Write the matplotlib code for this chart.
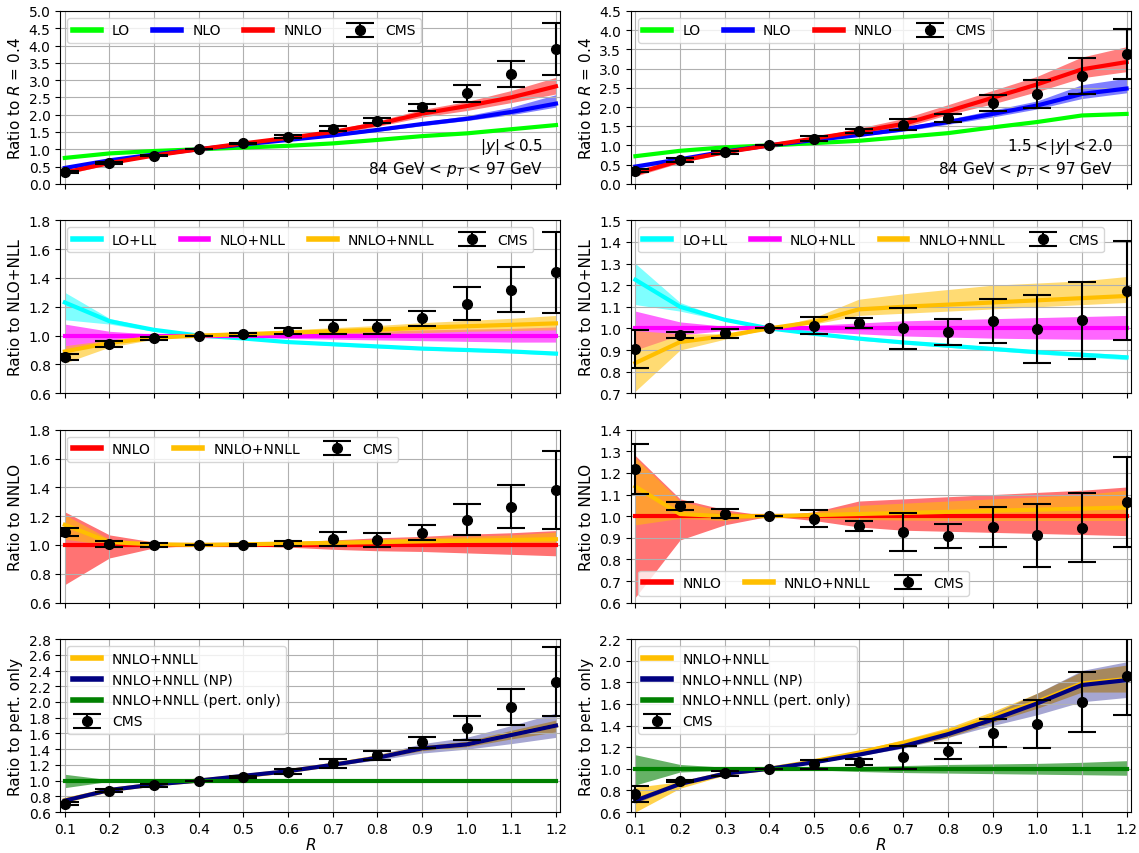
import numpy as np
import matplotlib.pyplot as plt

R = [0.1, 0.2, 0.3, 0.4, 0.5, 0.6, 0.7, 0.8, 0.9, 1.0, 1.1, 1.2]
ones = [1.0] * 12

# ---- row 1: ratio to R = 0.4 ----
# |y| < 0.5
a_lo = [0.75, 0.88, 0.95, 1.0, 1.05, 1.10, 1.17, 1.27, 1.38, 1.46, 1.58, 1.70]
a_nlo = [0.46, 0.68, 0.85, 1.0, 1.14, 1.27, 1.40, 1.56, 1.73, 1.88, 2.08, 2.32]
a_nlo_hi = [0.50, 0.70, 0.86, 1.0, 1.15, 1.29, 1.43, 1.60, 1.79, 1.97, 2.22, 2.58]
a_nlo_lo = [0.42, 0.66, 0.84, 1.0, 1.13, 1.25, 1.37, 1.52, 1.68, 1.83, 2.00, 2.22]
a_nnlo = [0.33, 0.60, 0.82, 1.0, 1.17, 1.33, 1.50, 1.73, 2.03, 2.25, 2.50, 2.82]
a_nnlo_hi = [0.37, 0.63, 0.83, 1.0, 1.19, 1.37, 1.56, 1.82, 2.15, 2.38, 2.70, 3.08]
a_nnlo_lo = [0.27, 0.57, 0.80, 1.0, 1.15, 1.30, 1.45, 1.66, 1.93, 2.12, 2.35, 2.60]
a_cms = [0.33, 0.61, 0.82, 1.0, 1.17, 1.36, 1.60, 1.83, 2.21, 2.62, 3.18, 3.89]
a_err = [0.03, 0.03, 0.02, 0.0, 0.02, 0.04, 0.06, 0.08, 0.11, 0.25, 0.37, 0.75]
# 1.5 < |y| < 2.0
b_lo = [0.72, 0.86, 0.95, 1.0, 1.06, 1.12, 1.22, 1.32, 1.47, 1.61, 1.78, 1.82]
b_nlo = [0.45, 0.64, 0.84, 1.0, 1.14, 1.27, 1.42, 1.61, 1.82, 2.04, 2.34, 2.48]
b_nlo_hi = [0.50, 0.67, 0.86, 1.0, 1.16, 1.31, 1.48, 1.68, 1.92, 2.16, 2.58, 2.75]
b_nlo_lo = [0.40, 0.61, 0.82, 1.0, 1.12, 1.24, 1.37, 1.55, 1.74, 1.95, 2.22, 2.37]
b_nnlo = [0.27, 0.60, 0.82, 1.0, 1.18, 1.36, 1.56, 1.89, 2.24, 2.59, 2.98, 3.17]
b_nnlo_hi = [0.36, 0.66, 0.86, 1.0, 1.22, 1.45, 1.70, 2.06, 2.43, 2.80, 3.30, 3.57]
b_nnlo_lo = [0.20, 0.55, 0.79, 1.0, 1.15, 1.30, 1.47, 1.80, 2.08, 2.40, 2.76, 2.92]
b_cms = [0.34, 0.62, 0.82, 1.0, 1.18, 1.37, 1.54, 1.72, 2.10, 2.34, 2.81, 3.37]
b_err = [0.04, 0.04, 0.04, 0.0, 0.07, 0.05, 0.15, 0.11, 0.20, 0.37, 0.47, 0.65]

# ---- row 2: ratio to NLO+NLL ----
c_ll = [1.23, 1.10, 1.04, 1.0, 0.98, 0.955, 0.94, 0.925, 0.91, 0.90, 0.89, 0.875]
c_ll_hi = [1.30, 1.12, 1.05, 1.0, 0.99, 0.965, 0.95, 0.935, 0.92, 0.91, 0.90, 0.89]
c_ll_lo = [1.11, 1.08, 1.03, 1.0, 0.975, 0.95, 0.93, 0.915, 0.90, 0.89, 0.88, 0.865]
c_nll_hi = [1.08, 1.03, 1.01, 1.0, 1.01, 1.02, 1.025, 1.03, 1.04, 1.045, 1.05, 1.06]
c_nll_lo = [0.90, 0.97, 0.99, 1.0, 0.99, 0.98, 0.975, 0.97, 0.965, 0.96, 0.955, 0.955]
c_nnll = [0.89, 0.95, 0.985, 1.0, 1.01, 1.02, 1.03, 1.04, 1.055, 1.065, 1.075, 1.085]
c_nnll_hi = [0.93, 0.97, 0.995, 1.0, 1.02, 1.04, 1.055, 1.07, 1.09, 1.105, 1.12, 1.14]
c_nnll_lo = [0.81, 0.92, 0.975, 1.0, 1.0, 1.005, 1.01, 1.015, 1.02, 1.03, 1.035, 1.04]
c_cms = [0.85, 0.94, 0.98, 1.0, 1.01, 1.03, 1.06, 1.06, 1.12, 1.22, 1.32, 1.44]
c_err = [0.02, 0.02, 0.013, 0.0, 0.01, 0.022, 0.046, 0.05, 0.05, 0.115, 0.155, 0.28]

d_ll = [1.225, 1.10, 1.04, 1.0, 0.975, 0.953, 0.935, 0.92, 0.905, 0.89, 0.878, 0.866]
d_ll_hi = [1.30, 1.12, 1.045, 1.0, 0.985, 0.962, 0.945, 0.93, 0.915, 0.90, 0.89, 0.878]
d_ll_lo = [1.11, 1.08, 1.035, 1.0, 0.97, 0.945, 0.928, 0.913, 0.897, 0.882, 0.868, 0.855]
d_nll_hi = [1.08, 1.03, 1.01, 1.0, 1.015, 1.025, 1.035, 1.04, 1.045, 1.05, 1.055, 1.06]
d_nll_lo = [0.90, 0.97, 0.99, 1.0, 0.985, 0.975, 0.965, 0.96, 0.955, 0.952, 0.95, 0.95]
d_nnll = [0.84, 0.937, 0.965, 1.0, 1.03, 1.088, 1.10, 1.11, 1.12, 1.13, 1.14, 1.15]
d_nnll_hi = [0.99, 0.975, 0.975, 1.0, 1.05, 1.135, 1.16, 1.18, 1.20, 1.21, 1.22, 1.24]
d_nnll_lo = [0.71, 0.90, 0.95, 1.0, 1.02, 1.06, 1.07, 1.08, 1.09, 1.10, 1.11, 1.12]
d_cms = [0.905, 0.97, 0.978, 1.0, 1.013, 1.025, 1.0, 0.982, 1.034, 0.997, 1.037, 1.175]
d_err = [0.086, 0.015, 0.021, 0.0, 0.04, 0.025, 0.093, 0.06, 0.103, 0.157, 0.178, 0.23]

# ---- row 3: ratio to NNLO ----
e_nnlo_hi = [1.23, 1.07, 1.02, 1.0, 1.005, 1.02, 1.035, 1.05, 1.06, 1.075, 1.085, 1.10]
e_nnlo_lo = [0.725, 0.91, 0.98, 1.0, 0.995, 0.985, 0.97, 0.96, 0.955, 0.945, 0.935, 0.925]
e_nnll = [1.14, 1.02, 1.005, 1.0, 1.005, 1.01, 1.015, 1.02, 1.025, 1.03, 1.035, 1.04]
e_nnll_hi = [1.21, 1.04, 1.01, 1.0, 1.01, 1.02, 1.03, 1.04, 1.05, 1.06, 1.07, 1.09]
e_nnll_lo = [1.04, 1.0, 0.995, 1.0, 1.0, 1.0, 1.0, 1.0, 1.0, 1.0, 1.0, 1.0]
e_cms = [1.09, 1.005, 1.0, 1.0, 1.0, 1.01, 1.04, 1.035, 1.085, 1.175, 1.265, 1.38]
e_err = [0.026, 0.02, 0.012, 0.0, 0.01, 0.02, 0.047, 0.048, 0.052, 0.108, 0.148, 0.27]

f_nnlo_hi = [1.28, 1.08, 1.03, 1.0, 1.02, 1.07, 1.08, 1.09, 1.10, 1.11, 1.12, 1.135]
f_nnlo_lo = [0.625, 0.89, 0.96, 1.0, 0.98, 0.95, 0.935, 0.93, 0.925, 0.92, 0.915, 0.91]
f_nnll = [1.137, 1.01, 1.0, 1.0, 1.005, 1.01, 1.015, 1.02, 1.025, 1.03, 1.035, 1.04]
f_nnll_hi = [1.27, 1.07, 1.02, 1.0, 1.02, 1.05, 1.06, 1.07, 1.08, 1.09, 1.10, 1.12]
f_nnll_lo = [0.96, 0.99, 0.98, 1.0, 0.99, 0.985, 0.982, 0.98, 0.98, 0.98, 0.98, 0.98]
f_cms = [1.218, 1.047, 1.012, 1.0, 0.989, 0.954, 0.927, 0.907, 0.95, 0.911, 0.947, 1.066]
f_err = [0.117, 0.018, 0.022, 0.0, 0.04, 0.023, 0.087, 0.055, 0.094, 0.145, 0.16, 0.21]

# ---- row 4: ratio to pert. only ----
g_np = [0.745, 0.88, 0.95, 1.0, 1.06, 1.12, 1.20, 1.29, 1.41, 1.46, 1.58, 1.70]
g_np_hi = [0.76, 0.89, 0.955, 1.0, 1.065, 1.13, 1.22, 1.33, 1.47, 1.55, 1.70, 1.86]
g_np_lo = [0.73, 0.87, 0.945, 1.0, 1.055, 1.11, 1.19, 1.26, 1.35, 1.40, 1.47, 1.55]
g_nnll = [0.75, 0.88, 0.95, 1.0, 1.055, 1.12, 1.20, 1.295, 1.41, 1.46, 1.585, 1.70]
g_nnll_hi = [0.78, 0.90, 0.96, 1.0, 1.06, 1.13, 1.21, 1.31, 1.44, 1.50, 1.64, 1.77]
g_nnll_lo = [0.72, 0.86, 0.94, 1.0, 1.05, 1.11, 1.19, 1.28, 1.38, 1.43, 1.53, 1.62]
g_pt_hi = [1.08, 1.01, 1.005, 1.0, 1.005, 1.01, 1.01, 1.01, 1.012, 1.013, 1.014, 1.015]
g_pt_lo = [0.91, 0.99, 0.995, 1.0, 0.995, 0.99, 0.99, 0.99, 0.988, 0.987, 0.986, 0.985]
g_cms = [0.705, 0.87, 0.94, 1.0, 1.045, 1.115, 1.22, 1.32, 1.49, 1.67, 1.935, 2.26]
g_err = [0.02, 0.02, 0.02, 0.0, 0.015, 0.03, 0.055, 0.06, 0.07, 0.155, 0.225, 0.44]

h_np = [0.705, 0.86, 0.955, 1.0, 1.06, 1.13, 1.21, 1.32, 1.455, 1.605, 1.775, 1.82]
h_np_hi = [0.73, 0.87, 0.96, 1.0, 1.07, 1.14, 1.23, 1.35, 1.51, 1.70, 1.91, 1.99]
h_np_lo = [0.68, 0.85, 0.95, 1.0, 1.05, 1.12, 1.19, 1.29, 1.40, 1.50, 1.62, 1.66]
h_nnll = [0.71, 0.86, 0.955, 1.0, 1.07, 1.15, 1.24, 1.34, 1.48, 1.62, 1.79, 1.83]
h_nnll_hi = [0.83, 0.88, 0.97, 1.0, 1.08, 1.17, 1.27, 1.38, 1.53, 1.70, 1.90, 1.96]
h_nnll_lo = [0.60, 0.82, 0.94, 1.0, 1.05, 1.12, 1.20, 1.29, 1.43, 1.56, 1.71, 1.71]
h_pt_hi = [1.13, 1.04, 1.015, 1.0, 1.01, 1.02, 1.03, 1.04, 1.045, 1.05, 1.06, 1.075]
h_pt_lo = [0.85, 0.97, 0.985, 1.0, 0.99, 0.975, 0.965, 0.96, 0.955, 0.95, 0.945, 0.94]
h_cms = [0.765, 0.89, 0.957, 1.0, 1.04, 1.06, 1.105, 1.165, 1.33, 1.415, 1.62, 1.86]
h_err = [0.073, 0.01, 0.02, 0.0, 0.043, 0.028, 0.103, 0.07, 0.133, 0.225, 0.278, 0.365]

GOLD = "#ffbf00"
LW = 3


def curve(ax, y, color, label, lo=None, hi=None, alpha=0.5):
    if lo is not None:
        ax.fill_between(R, lo, hi, color=color, alpha=alpha, lw=0)
    ax.plot(R, y, color=color, lw=LW, label=label)


def cms(ax, y, err):
    ax.errorbar(R, y, yerr=err, fmt="o", color="black", ms=7, capsize=10,
                elinewidth=1.5, capthick=1.5, label="CMS", zorder=10)


def legend(ax, **kw):
    leg = ax.legend(fontsize=10, columnspacing=1.7, **kw)
    for h in leg.get_lines():
        h.set_linewidth(4)


fig, axes = plt.subplots(4, 2, figsize=(11.39, 8.54), sharex=True)
plt.subplots_adjust(left=0.053, right=0.993, top=0.986, bottom=0.048,
                    wspace=0.141, hspace=0.211)

# row 1
for ax, lo, nlo, nlo_l, nlo_h, nnlo, nnlo_l, nnlo_h, c, e, ylab in [
    (axes[0, 0], a_lo, a_nlo, a_nlo_lo, a_nlo_hi, a_nnlo, a_nnlo_lo, a_nnlo_hi, a_cms, a_err, "$|y| < 0.5$"),
    (axes[0, 1], b_lo, b_nlo, b_nlo_lo, b_nlo_hi, b_nnlo, b_nnlo_lo, b_nnlo_hi, b_cms, b_err, "$1.5 < |y| < 2.0$"),
]:
    curve(ax, lo, "#00ff00", "LO")
    curve(ax, nlo, "blue", "NLO", nlo_l, nlo_h)
    curve(ax, nnlo, "red", "NNLO", nnlo_l, nnlo_h)
    cms(ax, c, e)
    legend(ax, loc="upper left", ncol=4)
    ax.set_ylabel("Ratio to $R$ = 0.4")
    ax.text(0.965, 0.22, ylab, transform=ax.transAxes, ha="right", va="center", fontsize=11)
    ax.text(0.965, 0.09, "84 GeV < $p_T$ < 97 GeV", transform=ax.transAxes,
            ha="right", va="center", fontsize=11)
axes[0, 0].set_ylim(0, 5.0)
axes[0, 0].set_yticks(np.arange(0, 5.01, 0.5))
axes[0, 1].set_ylim(0, 4.5)
axes[0, 1].set_yticks(np.arange(0, 4.51, 0.5))

# row 2
for ax, ll, ll_l, ll_h, n_l, n_h, nn, nn_l, nn_h, c, e in [
    (axes[1, 0], c_ll, c_ll_lo, c_ll_hi, c_nll_lo, c_nll_hi, c_nnll, c_nnll_lo, c_nnll_hi, c_cms, c_err),
    (axes[1, 1], d_ll, d_ll_lo, d_ll_hi, d_nll_lo, d_nll_hi, d_nnll, d_nnll_lo, d_nnll_hi, d_cms, d_err),
]:
    curve(ax, ll, "cyan", "LO+LL", ll_l, ll_h)
    curve(ax, ones, "magenta", "NLO+NLL", n_l, n_h, alpha=0.6)
    curve(ax, nn, GOLD, "NNLO+NNLL", nn_l, nn_h, alpha=0.55)
    cms(ax, c, e)
    legend(ax, loc="upper left", ncol=4)
    ax.set_ylabel("Ratio to NLO+NLL")
axes[1, 0].set_ylim(0.6, 1.8)
axes[1, 0].set_yticks(np.arange(0.6, 1.81, 0.2))
axes[1, 1].set_ylim(0.7, 1.5)
axes[1, 1].set_yticks(np.arange(0.7, 1.51, 0.1))

# row 3
for ax, r_l, r_h, nn, nn_l, nn_h, c, e, loc in [
    (axes[2, 0], e_nnlo_lo, e_nnlo_hi, e_nnll, e_nnll_lo, e_nnll_hi, e_cms, e_err, "upper left"),
    (axes[2, 1], f_nnlo_lo, f_nnlo_hi, f_nnll, f_nnll_lo, f_nnll_hi, f_cms, f_err, "lower left"),
]:
    curve(ax, ones, "red", "NNLO", r_l, r_h, alpha=0.55)
    curve(ax, nn, GOLD, "NNLO+NNLL", nn_l, nn_h, alpha=0.55)
    cms(ax, c, e)
    legend(ax, loc=loc, ncol=3)
    ax.set_ylabel("Ratio to NNLO")
axes[2, 0].set_ylim(0.6, 1.8)
axes[2, 0].set_yticks(np.arange(0.6, 1.81, 0.2))
axes[2, 1].set_ylim(0.6, 1.4)
axes[2, 1].set_yticks(np.arange(0.6, 1.41, 0.1))

# row 4
for ax, nn, nn_l, nn_h, np_, np_l, np_h, p_l, p_h, c, e in [
    (axes[3, 0], g_nnll, g_nnll_lo, g_nnll_hi, g_np, g_np_lo, g_np_hi, g_pt_lo, g_pt_hi, g_cms, g_err),
    (axes[3, 1], h_nnll, h_nnll_lo, h_nnll_hi, h_np, h_np_lo, h_np_hi, h_pt_lo, h_pt_hi, h_cms, h_err),
]:
    curve(ax, nn, GOLD, "NNLO+NNLL", nn_l, nn_h, alpha=0.7)
    curve(ax, np_, "navy", "NNLO+NNLL (NP)", np_l, np_h, alpha=0.35)
    curve(ax, ones, "green", "NNLO+NNLL (pert. only)", p_l, p_h, alpha=0.6)
    cms(ax, c, e)
    legend(ax, loc="upper left", ncol=1)
    ax.set_ylabel("Ratio to pert. only")
    ax.set_xlabel("$R$", fontsize=11, labelpad=0)
axes[3, 0].set_ylim(0.6, 2.8)
axes[3, 0].set_yticks(np.arange(0.6, 2.81, 0.2))
axes[3, 1].set_ylim(0.6, 2.2)
axes[3, 1].set_yticks(np.arange(0.6, 2.21, 0.2))

for ax in axes.flat:
    ax.set_xlim(0.09, 1.21)
    ax.set_xticks(R)
    ax.grid(True)
    ax.tick_params(labelsize=10)
    ax.yaxis.label.set_size(11)

plt.savefig("out.png", dpi=100)
